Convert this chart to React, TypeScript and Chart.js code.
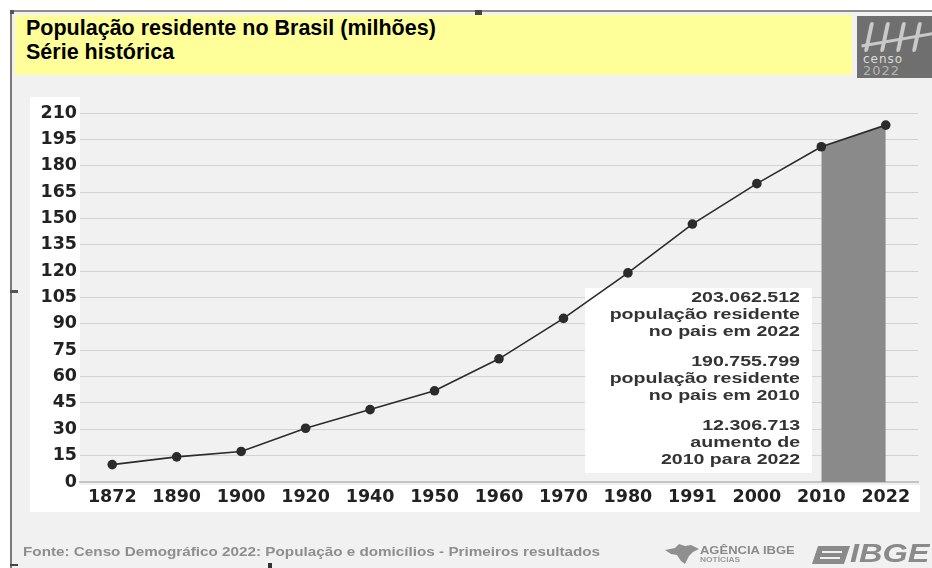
import React, { useEffect, useRef } from "react";
import { Chart, registerables } from "chart.js";

Chart.register(...registerables);

// ---- Data ----
const YEARS = ["1872", "1890", "1900", "1920", "1940", "1950", "1960", "1970", "1980", "1991", "2000", "2010", "2022"];
const POPULATION = [9.9, 14.3, 17.4, 30.6, 41.2, 51.9, 70.1, 93.1, 119.0, 146.8, 169.8, 190.8, 203.1];
const HIGHLIGHT_YEARS = ["2010", "2022"];
const Y_MIN = 0;
const Y_MAX = 210;
const Y_STEP = 15;

const TITLE_LINES = ["População residente no Brasil (milhões)", "Série histórica"];
const NOTE_GROUPS = [
  ["203.062.512", "população residente", "no pais em 2022"],
  ["190.755.799", "população residente", "no pais em 2010"],
  ["12.306.713", "aumento de", "2010 para 2022"],
];
const NOTE_TOPS = [289, 353, 417];
const SOURCE_TEXT = "Fonte: Censo Demográfico 2022: População e domicílios - Primeiros resultados";

const TICK_FONT = { family: "'DejaVu Sans', sans-serif", weight: "bold" as const, size: 17.5 };
const NOTE_BOX = { x: 585, y: 288, w: 227, h: 185 };

const bgPlugin = {
  id: "bgPlugin",
  beforeDraw(chart: any) {
    const { ctx, chartArea } = chart;
    ctx.save();
    ctx.fillStyle = "#ffffff";
    ctx.fillRect(chartArea.left - 50, chartArea.top - 16, 50, chartArea.bottom - chartArea.top + 46);
    ctx.fillRect(chartArea.left - 50, chartArea.bottom + 3, chartArea.right - chartArea.left + 52, 27);
    ctx.restore();
  },
  beforeDatasetsDraw(chart: any) {
    const { ctx } = chart;
    ctx.save();
    ctx.fillStyle = "#ffffff";
    ctx.fillRect(NOTE_BOX.x, NOTE_BOX.y, NOTE_BOX.w, NOTE_BOX.h);
    ctx.restore();
  },
};

export default function App() {
  const canvasRef = useRef<HTMLCanvasElement | null>(null);

  useEffect(() => {
    if (!canvasRef.current) return;
    const highlight = YEARS.map((y, i) => (HIGHLIGHT_YEARS.includes(y) ? POPULATION[i] : null));
    const chart = new Chart(canvasRef.current, {
      type: "line",
      data: {
        labels: YEARS,
        datasets: [
          {
            data: POPULATION,
            borderColor: "#2b2b2b",
            borderWidth: 1.6,
            pointRadius: 4.8,
            pointBackgroundColor: "#2b2b2b",
            pointBorderColor: "#2b2b2b",
            pointBorderWidth: 0,
            tension: 0,
            fill: false,
            order: 0,
          },
          {
            data: highlight,
            borderColor: "transparent",
            borderWidth: 1,
            pointRadius: 0,
            fill: "origin",
            backgroundColor: "#8a8a8a",
            order: 1,
          },
        ],
      },
      options: {
        responsive: false,
        animation: false,
        layout: { padding: { left: 30, top: 113, right: 14, bottom: 0 } },
        plugins: { legend: { display: false }, tooltip: { enabled: false } },
        scales: {
          x: {
            offset: true,
            grid: { display: false, drawTicks: false },
            border: { display: true, color: "#c4c4c4", width: 2 },
            ticks: { font: TICK_FONT, color: "#222", padding: 5, maxRotation: 0, autoSkip: false },
            afterFit: (s: any) => {
              s.height = 86;
            },
          },
          y: {
            min: Y_MIN,
            max: Y_MAX,
            grid: { color: "#d2d2d2", lineWidth: 1, drawTicks: false },
            border: { display: false },
            ticks: { stepSize: Y_STEP, font: TICK_FONT, color: "#222", padding: 3 },
            afterFit: (s: any) => {
              s.width = 50;
            },
          },
        },
      },
      plugins: [bgPlugin],
    });
    return () => chart.destroy();
  }, []);

  const abs: React.CSSProperties = { position: "absolute" };
  const sans = "'Liberation Sans', Arial, sans-serif";

  return (
    <div
      style={{
        position: "fixed",
        left: 0,
        top: 0,
        width: 932,
        height: 568,
        background: "#ffffff",
        overflow: "hidden",
        fontFamily: sans,
      }}
    >
      {/* frame */}
      <div
        style={{
          ...abs,
          left: 10,
          top: 10,
          right: 0,
          bottom: 0,
          background: "#f1f1f1",
          borderTop: "2px solid #8c8c8c",
          borderLeft: "2px solid #7a7a7a",
        }}
      />
      <div style={{ ...abs, left: 10, top: 10, width: 4, height: 4, background: "#555" }} />
      <div style={{ ...abs, left: 475, top: 10, width: 7, height: 5, background: "#444" }} />
      <div style={{ ...abs, left: 10, top: 290, width: 8, height: 3, background: "#555" }} />
      <div style={{ ...abs, left: 10, top: 564, width: 8, height: 2, background: "#444" }} />
      <div style={{ ...abs, left: 268, top: 563, width: 4, height: 5, background: "#333" }} />

      {/* title */}
      <div style={{ ...abs, left: 15, top: 15, width: 837, height: 60, background: "#ffff99" }} />
      {TITLE_LINES.map((t, i) => (
        <div
          key={t}
          style={{
            ...abs,
            left: 26,
            top: 16 + i * 24,
            fontSize: 21.5,
            lineHeight: "24px",
            fontWeight: "bold",
            color: "#000",
            whiteSpace: "nowrap",
          }}
        >
          {t}
        </div>
      ))}

      {/* censo logo */}
      <div style={{ ...abs, left: 857, top: 16, width: 80, height: 62, background: "#6f6f6f" }}>
        {[0, 1, 2, 3].map((k) => (
          <div
            key={k}
            style={{
              ...abs,
              left: 10 + k * 16,
              top: 6,
              width: 4,
              height: 30,
              background: "#c9c9c9",
              borderRadius: 2,
              transform: "skewX(-12deg)",
            }}
          />
        ))}
        <div style={{ ...abs, left: 4, top: 22, width: 76, height: 3, background: "#c9c9c9", transform: "rotate(-10deg)" }} />
        <div style={{ ...abs, left: 6, top: 37, fontSize: 12, lineHeight: "12px", color: "#dddddd", letterSpacing: 1, fontFamily: "'DejaVu Sans', sans-serif" }}>
          censo
        </div>
        <div style={{ ...abs, left: 6, top: 48, fontSize: 13, lineHeight: "13px", color: "#b5b5b5", letterSpacing: 1, fontFamily: "'DejaVu Sans', sans-serif" }}>
          2022
        </div>
      </div>

      <canvas ref={canvasRef} width={932} height={568} style={{ ...abs, left: 0, top: 0, width: 932, height: 568 }} />

      {/* notes */}
      {NOTE_GROUPS.map((g, gi) => (
        <div
          key={gi}
          style={{
            ...abs,
            right: 132,
            top: NOTE_TOPS[gi],
            textAlign: "right",
            fontSize: 14.5,
            lineHeight: "17px",
            fontWeight: "bold",
            color: "#333",
            whiteSpace: "nowrap",
            transform: "scaleX(1.35)",
            transformOrigin: "right top",
          }}
        >
          {g.map((l) => (
            <div key={l}>{l}</div>
          ))}
        </div>
      ))}

      {/* footer */}
      <div
        style={{
          ...abs,
          left: 23,
          top: 545,
          fontSize: 12.5,
          lineHeight: "14px",
          fontWeight: "bold",
          color: "#8e8e8e",
          whiteSpace: "nowrap",
          transform: "scaleX(1.22)",
          transformOrigin: "left top",
          filter: "blur(0.3px)",
        }}
      >
        {SOURCE_TEXT}
      </div>
      <svg style={{ ...abs, left: 663, top: 543 }} width={38} height={22} viewBox="0 0 38 22">
        <path d="M2 7 L12 5 L16 1 L22 3 L28 2 L36 6 L30 9 L26 13 L22 21 L18 18 L14 12 L8 11 Z" fill="#8f8f8f" />
      </svg>
      <div style={{ ...abs, left: 700, top: 545, fontSize: 11, lineHeight: "11px", fontWeight: "bold", color: "#8a8a8a", whiteSpace: "nowrap", transform: "scaleX(1.18)", transformOrigin: "left top" }}>
        AGÊNCIA IBGE
      </div>
      <div style={{ ...abs, left: 700, top: 556, fontSize: 7, lineHeight: "7px", fontWeight: "bold", color: "#9a9a9a", whiteSpace: "nowrap", transform: "scaleX(1.2)", transformOrigin: "left top" }}>
        NOTÍCIAS
      </div>
      <svg style={{ ...abs, left: 812, top: 546 }} width={38} height={18} viewBox="0 0 38 18">
        <path d="M6 0 L38 0 L32 18 L0 18 Z" fill="#8a8a8a" />
        <path d="M10 6 L30 6 M8 12 L28 12" stroke="#f1f1f1" strokeWidth={2} />
      </svg>
      <div
        style={{
          ...abs,
          left: 850,
          top: 541,
          fontSize: 25,
          lineHeight: "25px",
          fontWeight: 900,
          fontStyle: "italic",
          color: "#8a8a8a",
          whiteSpace: "nowrap",
          transform: "scaleX(1.3)",
          transformOrigin: "left top",
        }}
      >
        IBGE
      </div>
    </div>
  );
}
